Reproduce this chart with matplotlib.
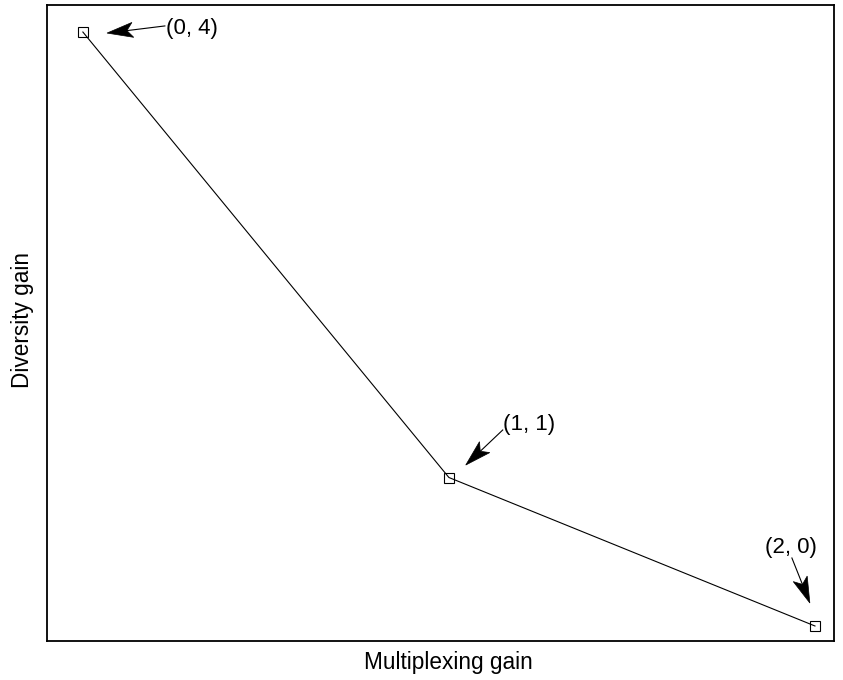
import matplotlib
matplotlib.use("Agg")
import numpy as np
import matplotlib.pyplot as plt
from matplotlib.patches import Polygon
from matplotlib.transforms import IdentityTransform

plt.rcParams['font.family'] = ['Liberation Sans', 'DejaVu Sans']

# Diversity-multiplexing tradeoff corner points
mux_gain = [0, 1, 2]
div_gain = [4, 1, 0]
point_labels = ["(0, 4)", "(1, 1)", "(2, 0)"]

fig = plt.figure(figsize=(8.43, 6.8), dpi=100)
ax = fig.add_axes([47 / 843, 1 - 641 / 680, (834 - 47) / 843, (641 - 5) / 680])

ax.plot(mux_gain, div_gain, color='black', linewidth=0.8,
        marker='s', markersize=7, markerfacecolor='none',
        markeredgecolor='black', markeredgewidth=0.8)

ax.set_xlim(-0.098, 2.052)
ax.set_ylim(-0.101, 4.182)
ax.set_xticks([])
ax.set_yticks([])
for s in ax.spines.values():
    s.set_linewidth(1.3)

ax.set_xlabel("Multiplexing gain", fontsize=16.3)
ax.set_ylabel("Diversity gain", fontsize=16.3)
ax.xaxis.set_label_coords(0.5095, -0.0157)
ax.yaxis.set_label_coords(-0.0165, 0.5055)

# arrow tips, tails and label centres, in data units
tips = [(0.066, 3.993), (1.046, 1.084), (1.986, 0.155)]
tails = [(0.224, 4.041), (1.147, 1.320), (1.937, 0.458)]
text_pos = [(0.227, 4.027), (1.148, 1.36), (1.934, 0.532)]
text_ha = ['left', 'left', 'center']


def draw_arrow(tip, tail, head_len=26, head_half=7.5, notch=6):
    p_tip = ax.transData.transform(tip)
    p_tail = ax.transData.transform(tail)
    d = p_tip - p_tail
    d = d / np.hypot(*d)
    n = np.array([-d[1], d[0]])
    back = p_tip - d * head_len
    pts = [p_tip, back + n * head_half, p_tip - d * (head_len - notch),
           back - n * head_half]
    ax.add_patch(Polygon(pts, closed=True, facecolor='black',
                         edgecolor='black', linewidth=0.5,
                         transform=IdentityTransform(), clip_on=False))
    shaft_end = ax.transData.inverted().transform(p_tip - d * (head_len - notch))
    ax.plot([tail[0], shaft_end[0]], [tail[1], shaft_end[1]],
            color='black', linewidth=0.8)


for lab, tip, tail, tp, ha in zip(point_labels, tips, tails, text_pos, text_ha):
    draw_arrow(tip, tail)
    ax.text(tp[0], tp[1], lab, ha=ha, va='center', fontsize=16)

fig.savefig("out.png", dpi=100)
